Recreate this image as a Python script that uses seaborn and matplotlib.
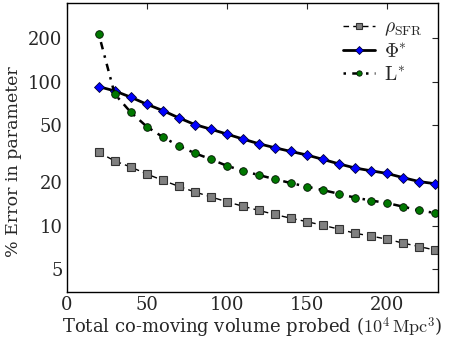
import matplotlib
matplotlib.use("Agg")
import matplotlib.pyplot as plt
import seaborn as sns
import pandas as pd
from matplotlib.ticker import FixedLocator, FixedFormatter, NullLocator

volume = [20, 30, 40, 50, 60, 70, 80, 90, 100, 110, 120, 130, 140, 150, 160, 170, 180, 190, 200, 210, 220, 230]
rho_sfr = [32.4, 28.2, 25.6, 22.9, 20.7, 18.8, 17.2, 15.9, 14.7, 13.7, 12.8, 12.0, 11.3, 10.7, 10.1, 9.5, 8.9, 8.5, 8.1, 7.6, 7.2, 6.8]
phi_star = [92.3, 86.2, 78.0, 69.7, 63.0, 56.1, 50.4, 46.8, 43.3, 40.0, 37.1, 34.8, 32.8, 31.0, 28.9, 26.9, 25.2, 24.1, 23.1, 21.6, 20.3, 19.6]
l_star = [215, 82, 61.4, 48.8, 41.3, 35.9, 31.9, 29.0, 26.1, 24.1, 22.5, 21.1, 19.8, 18.7, 17.7, 16.7, 15.7, 15.0, 14.4, 13.6, 12.8, 12.3]
ytick_values = [5, 10, 20, 50, 100, 200]
ytick_labels = ["5", "10", "20", "50", "100", "200"]

sns.set_style("white")
plt.rcParams["font.family"] = ["serif"]
plt.rcParams["font.serif"] = ["DejaVu Serif"]
plt.rcParams["mathtext.fontset"] = "cm"

df = pd.DataFrame({"x": volume, "rho": rho_sfr, "phi": phi_star, "l": l_star})

fig = plt.figure(figsize=(4.5, 3.4), dpi=100)
ax = fig.add_axes([0.148, 0.142, 0.826, 0.849])

sns.lineplot(data=df, x="x", y="rho", ax=ax, color="black", lw=1.0,
             linestyle=(0, (4, 3)), marker="s", markersize=5.5,
             markerfacecolor="#808080", markeredgecolor="#333333", markeredgewidth=0.8,
             label=r"$\rho_{\rm SFR}$")
sns.lineplot(data=df, x="x", y="phi", ax=ax, color="black", lw=2.0,
             marker="D", markersize=5.5,
             markerfacecolor="#0000ff", markeredgecolor="#000033", markeredgewidth=0.6,
             label=r"$\Phi^{*}$")
sns.lineplot(data=df, x="x", y="l", ax=ax, color="black", lw=1.8,
             linestyle=(0, (1, 2.5, 3, 2.5)), marker="o", markersize=5.5,
             markerfacecolor="#007700", markeredgecolor="#001100", markeredgewidth=0.6,
             label=r"$\mathrm{L}^{*}$")

ax.set_yscale("log")
ax.set_xlim(0, 232)
ax.set_ylim(3.5, 350)
ax.yaxis.set_major_locator(FixedLocator(ytick_values))
ax.yaxis.set_major_formatter(FixedFormatter(ytick_labels))
ax.yaxis.set_minor_locator(NullLocator())
ax.set_xticks([0, 50, 100, 150, 200])
ax.tick_params(direction="in", top=True, right=True, length=4, width=0.8,
               labelsize=13, pad=3)
for s in ax.spines.values():
    s.set_linewidth(1.0)
    s.set_color("black")

ax.set_xlabel(r"Total co-moving volume probed ($10^4\,\mathrm{Mpc}^3$)", fontsize=13, labelpad=1)
ax.set_ylabel("% Error in parameter", fontsize=12.5)
ax.yaxis.set_label_coords(-0.12, 0.45)

leg = ax.legend(loc="upper right", frameon=False, fontsize=14, handlelength=1.6,
                borderaxespad=0.4, labelspacing=0.25, markerscale=0.7, handletextpad=0.5)

fig.savefig("out.png", dpi=100)
